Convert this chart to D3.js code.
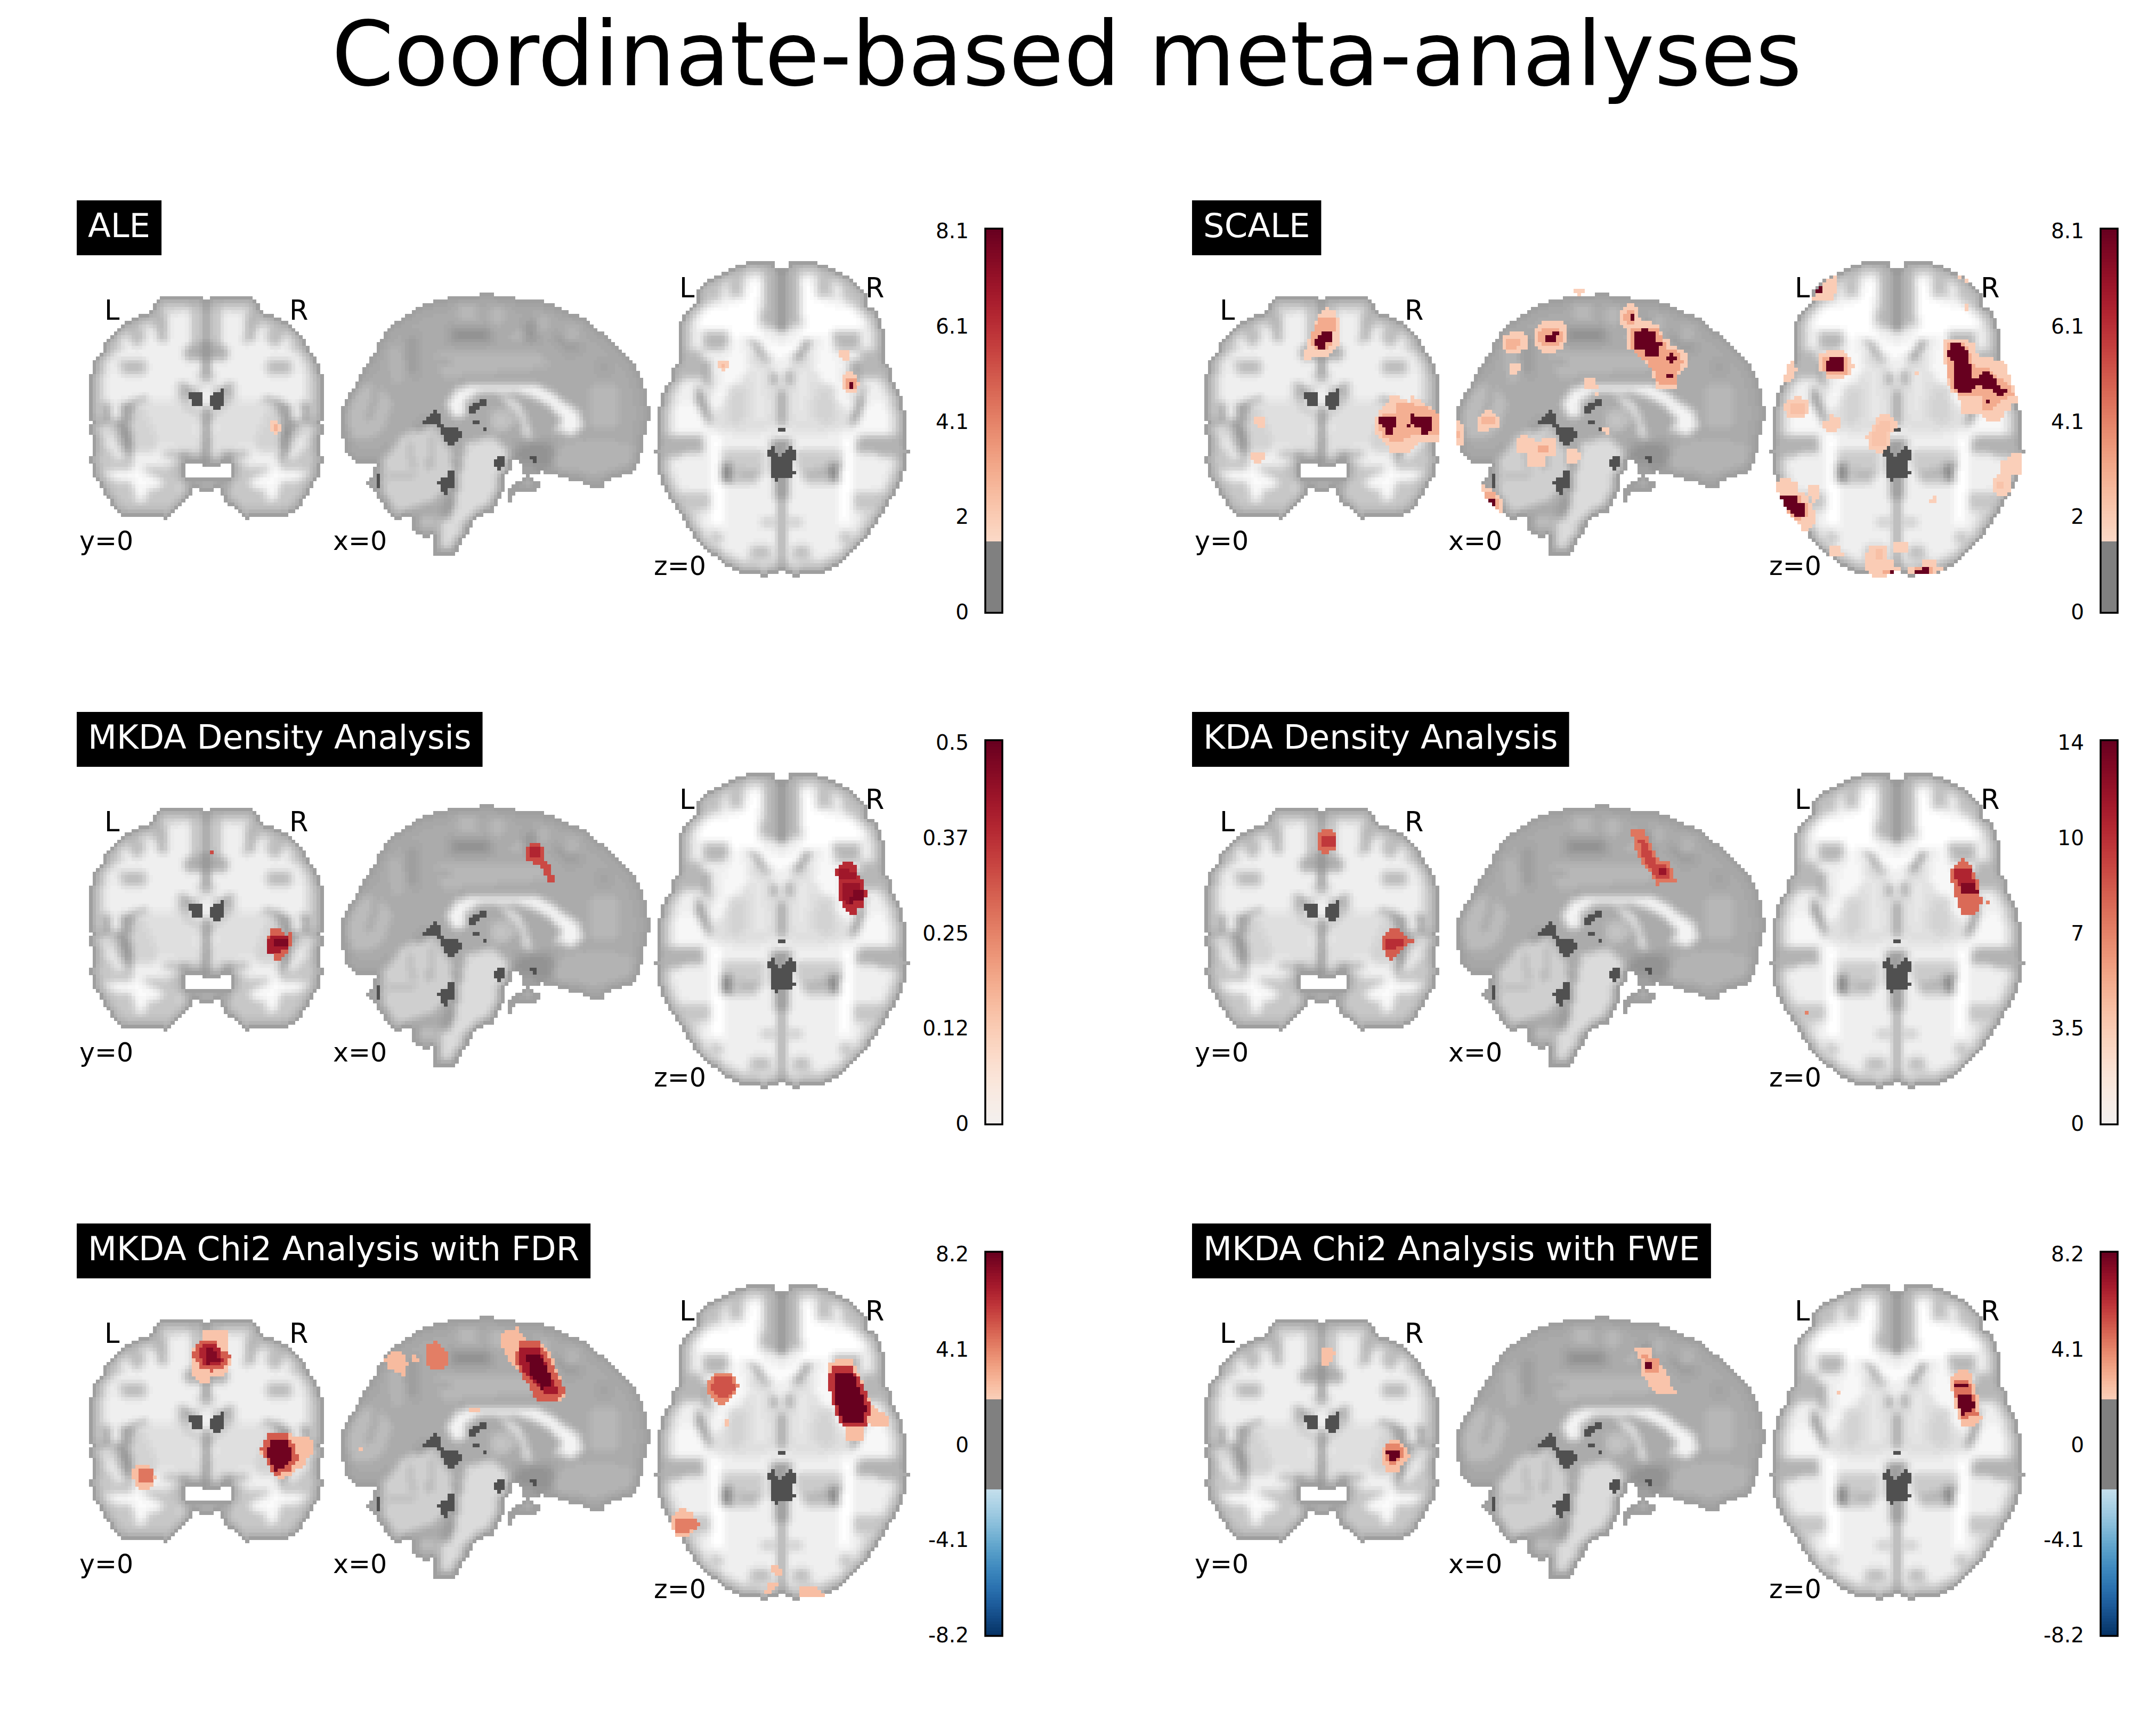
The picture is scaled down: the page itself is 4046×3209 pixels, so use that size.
<!DOCTYPE html>
<html><head><meta charset="utf-8">
<script src="https://cdn.jsdelivr.net/npm/d3@7"></script>
<style>html,body{margin:0;padding:0;background:#fff}svg{display:block}text{font-family:"DejaVu Sans",sans-serif}</style>
</head><body><svg id="fig" width="4046" height="3209"></svg>
<script>
// ---------- chart text ----------
const figureTitle = "Coordinate-based meta-analyses";
const panelNames = ["ALE","SCALE","MKDA Density Analysis","KDA Density Analysis","MKDA Chi2 Analysis with FDR","MKDA Chi2 Analysis with FWE"];
const vMin = [0,0,0,0,-8.2,-8.2];
const vMax = [8.1,8.1,0.5,14,8.2,8.2];
const thresholds = [1.55,1.55,0,0,1.9,1.9];
const tickLabels = [
  ["8.1","6.1","4.1","2","0"],["8.1","6.1","4.1","2","0"],
  ["0.5","0.37","0.25","0.12","0"],["14","10","7","3.5","0"],
  ["8.2","4.1","0","-4.1","-8.2"],["8.2","4.1","0","-4.1","-8.2"]];
const sliceKeys = ["cor","sag","ax"];
const sliceCaptions = ["y=0","x=0","z=0"];

// ---------- anatomy in crop coordinates: [grey level, x,y, x,y, ...] ----------
const corOutline = [680,100,660,100,660,80,440,80,400,100,380,120,380,160,300,180,280,200,240,220,200,240,180,260,160,280,140,300,120,320,100,380,80,400,60,420,40,480,20,560,20,755,40,790,20,800,20,855,40,860,40,980,20,980,20,1015,40,1020,40,1095,60,1100,80,1140,100,1180,120,1210,140,1240,160,1270,200,1300,220,1315,340,1320,460,1330,480,1300,520,1270,560,1240,600,1190,600,1150,640,1172,680,1172];
const corMirrored = [
 [0.72,395,130,450,170,470,330,420,340,385,240],
 [0.72,590,110,640,110,640,330,600,330],
 [0.84,470,110,520,110,520,170,470,170],
 [0.74,210,250,290,210,340,300,320,350,270,350],
 [0.78,100,340,190,310,220,380,120,400],
 [0.74,190,440,340,440,340,510,200,510],
 [0.84,70,450,110,450,110,700,70,700],
 [0.68,560,350,680,340,680,440,570,440],
 [0.76,610,515,680,515,680,540,630,540],
 [0.88,340,660,500,650,590,700,640,790,660,960,440,940,380,900,330,800],
 [0.83,240,700,330,700,400,860,400,950,270,950],
 [0.74,520,560,560,560,600,620,590,690,640,720,660,780,620,740,560,700,520,640],
 [0.56,545,575,600,600,660,610,660,625,580,625],
 [0.9,600,570,680,560,680,610,650,600],
 [0.62,210,680,340,640,350,670,280,690,250,800,260,960,215,960,200,810],
 [0.62,100,680,150,680,140,770,100,770],
 [0.6,40,770,220,770,210,810,40,800],
 [0.54,200,815,240,815,270,990,240,990],
 [0.78,50,820,190,820,240,1000,290,1030,440,1040,540,1000,540,1090,500,1290,220,1300,100,1170,50,1000],
 [0.98,100,1060,260,1060,290,1000,320,1060,440,1120,450,1140,350,1170,340,1230,290,1230,260,1120,110,1100],
 [0.92,70,830,150,850,220,990,180,1000,100,900],
 [0.58,440,955,580,955,580,1015,540,1015,540,985,440,985],
 [0.66,540,1000,590,1000,590,1100,540,1100]];
const corCentre = [
 [0.56,665,100,700,100,700,520,665,520],
 [0.66,670,520,695,520,695,560,670,560],
 [0.58,670,700,695,700,700,1020,670,1020],
 [0.66,560,1100,820,1100,820,1172,560,1172],
 [0.99,640,1120,735,1120,735,1150,640,1150]];
const corHoles = [[560,1015,660,1015,660,1035,760,1035,760,1015,820,1015,820,1100,560,1100]];
const corDark = [[0.31,580,620,660,620,660,695,600,695],[0.31,700,635,780,600,780,680,760,715,720,715,700,695]];

const sagOutline = [705,57,775,57,775,78,880,78,880,98,1000,98,1050,115,1087,135,1120,155,1170,175,1210,195,1260,235,1280,255,1300,275,1330,295,1365,330,1400,375,1420,395,1450,435,1470,470,1487,495,1505,555,1525,610,1525,685,1540,690,1540,765,1525,770,1525,845,1505,850,1505,945,1487,950,1487,1005,1470,1010,1470,1045,1453,1060,1400,1060,1400,1080,1345,1085,1345,1100,1315,1100,1315,1138,1245,1138,1245,1120,1210,1120,1210,1100,1140,1100,1140,1082,1090,1082,1087,1060,1035,1060,1000,1040,1000,1060,985,1060,950,1060,950,1085,1000,1105,1000,1135,985,1160,910,1160,878,1165,860,1190,860,1220,845,1220,845,1180,860,1120,895,1100,930,1080,915,1020,880,985,860,985,860,1040,840,1040,825,1140,805,1200,790,1220,775,1250,770,1280,690,1300,670,1320,665,1355,650,1395,635,1400,615,1455,585,1510,480,1515,480,1400,440,1415,390,1395,375,1355,375,1300,300,1315,270,1295,235,1240,215,1200,190,1165,165,1130,150,1100,180,1085,180,1045,200,1005,150,1000,95,1000,78,965,60,960,45,920,43,860,25,855,25,705,45,665,60,630,95,570,112,530,147,455,165,430,200,375,215,320,235,295,270,240,320,200,355,180,405,140,445,118,495,98,565,80,705,75];
const sagLayers = [
 [0.74,70,640,130,560,220,560,280,680,220,850,90,870,60,780],
 [0.62,200,560,225,560,170,760,150,760],
 [0.71,250,370,320,350,340,540,280,580],
 [0.6,360,300,400,300,400,520,360,520],
 [0.72,600,120,690,120,700,210,610,220],
 [0.72,760,140,820,140,820,230,760,230],
 [0.72,860,270,920,270,900,330,860,330],
 [0.72,990,200,1050,200,1040,270,990,270],
 [0.71,1130,240,1190,240,1190,330,1130,330],
 [0.58,560,250,760,250,760,340,560,340],
 [0.59,930,210,985,210,985,340,930,340],
 [0.59,1060,290,1100,290,1170,390,1150,400],
 [0.59,1290,460,1340,460,1340,500,1290,500],
 [0.59,1160,330,1200,330,1200,380,1160,380],
 [0.72,480,400,1000,390,1060,470,800,500,520,530],
 [0.6,500,435,560,435,560,455,500,455],
 [0.72,1240,560,1380,560,1380,800,1240,800],
 [0.71,1110,900,1300,870,1450,900,1470,1000,1300,1060,1050,1040],
 [0.58,880,900,1060,880,1080,1000,1000,1040,880,980],
 [0.56,230,960,440,770,460,790,250,980],
 [0.82,230,980,340,840,480,800,560,930,580,1050,500,1200,300,1280,230,1150],
 [0.68,350,880,370,880,390,1040,370,1040],
 [0.68,460,850,480,850,470,1040,450,1040],
 [0.68,260,1070,400,1070,400,1090,260,1090],
 [0.86,640,880,780,870,850,950,800,1220,760,1280,680,1290,620,1340,600,1490,490,1510,520,1330,580,1180,600,1100,620,1000],
 [0.58,595,1000,615,1000,600,1120,570,1300,530,1330,520,1320,560,1180],
 [0.74,400,1300,500,1300,500,1390,400,1390],
 [0.96,545,680,590,590,700,565,950,560,1040,600,1130,670,1200,730,1205,810,1160,845,1060,825,1110,780,1100,740,1000,650,900,610,700,615,640,660,640,740,570,750],
 [0.9,800,620,880,650,930,730,960,860,930,860,900,750,840,680],
 [0.76,750,710,860,710,880,780,840,830,760,820],
 [0.9,895,1100,1000,1105,985,1160,910,1160]];
const sagDark = [
 [0.31,650,690,710,650,740,650,740,680,690,710,690,725,665,725],
 [0.31,668,765,705,765,705,785,668,785],
 [0.31,722,805,740,805,740,825,722,825],
 [0.31,480,708,495,708,510,730,515,780,530,805,600,805,618,830,618,860,585,905,550,905,530,860,500,800,470,790,430,785,430,765,465,730],
 [0.31,565,1040,585,1040,585,1125,555,1150,545,1180,530,1175,510,1125,495,1105,540,1085],
 [0.31,775,985,800,965,825,965,825,1020,805,1040,775,1020],
 [0.31,950,965,985,965,985,1000,965,1000],
 [0.31,200,1060,215,1060,215,1140,200,1140]];

const axOutline = [737,55,695,55,695,25,540,25,540,40,500,40,460,55,420,75,360,95,320,125,275,160,255,190,255,230,200,260,180,295,160,345,160,510,120,530,120,595,100,600,80,630,60,680,40,750,40,915,20,915,20,935,40,935,40,1015,60,1060,80,1100,100,1140,120,1160,140,1190,160,1215,180,1240,200,1270,240,1320,260,1345,300,1375,340,1410,380,1440,420,1470,480,1495,520,1515,660,1520,715,1505,737,1490];
const axMirrored = [
 [0.76,460,70,535,60,525,200,440,200],
 [0.72,630,60,715,60,715,345,620,330,640,220],
 [0.76,320,130,400,120,400,210,290,230],
 [1.0,400,240,540,200,570,100,630,100,610,210,600,330,640,390,737,440,737,490,700,470,600,395,500,380,480,450,430,350,300,340,190,350,200,320,300,240],
 [0.72,300,370,450,370,430,440,300,440],
 [0.72,170,450,290,450,300,590,130,590],
 [0.66,300,500,345,500,345,620,300,620],
 [0.88,480,480,680,500,690,620,737,640,737,820,550,860,390,830,340,780,300,640],
 [0.82,560,400,600,395,680,490,680,530,600,500],
 [0.97,470,420,490,400,560,530,500,600,360,740,330,720],
 [0.93,590,530,620,530,640,760,610,760],
 [0.83,440,620,540,620,550,790,430,800],
 [0.64,680,540,715,560,715,620,680,610],
 [0.56,560,395,580,395,660,490,640,500],
 [0.54,260,620,280,620,350,800,330,810,270,700],
 [0.97,100,680,240,700,330,840,300,860,60,860,70,760],
 [0.7,60,860,300,860,310,930,60,960],
 [0.78,120,1120,350,1120,350,1210,180,1210],
 [0.86,180,1210,290,1210,290,1290,220,1290],
 [0.76,570,1380,680,1380,680,1440,570,1440],
 [0.76,350,1300,420,1330,400,1370,340,1340],
 [0.82,620,1240,700,1240,700,1290,620,1290],
 [1.0,330,850,400,850,420,1280,345,1280],
 [0.8,400,920,650,920,650,1000,600,1080,420,1090,400,1000],
 [0.7,500,1010,620,1020,620,1060,500,1060],
 [0.52,400,990,470,990,470,1060,410,1080],
 [0.62,680,870,737,870,737,1160,700,1160]];
const axCentre = [
 [0.56,718,55,757,55,757,360,718,360],
 [0.64,718,1160,757,1160,757,1490,718,1490],
 [0.62,718,640,757,640,757,800,718,800]];
const axDark = [
 [0.31,655,920,680,920,680,900,695,900,695,920,735,950,775,920,775,900,795,900,815,920,815,965,795,965,795,1015,815,1015,815,1035,795,1050,715,1050,715,1065,695,1065,695,1050,680,1050,680,965,655,950],
 [0.31,717,813,757,813,757,830,717,830]];

const aleCor = [[2.0,1037,778,1080,778,1080,798,1098,798,1098,838,1080,838,1080,858,1058,858,1058,838,1037,838],[2.8,1058,798,1080,798,1080,838,1058,838]];
const aleSag = [];
const aleAx = [[2.0,378,497,438,497,438,528,418,528,418,545,397,545,397,528,378,528],[2.6,398,510,418,510,418,528,398,528],
 [2.0,1056,447,1116,447,1116,495,1078,495,1078,478,1056,478],
 [2.0,1097,547,1137,547,1137,562,1157,562,1157,597,1176,597,1176,612,1157,612,1157,647,1097,647,1097,630,1078,630,1078,562,1097,562],
 [3.2,1097,580,1157,580,1157,630,1097,630],[8.1,1117,597,1137,597,1137,630,1117,630]];

const scaleCor = [
 [1.9,733,145,752,145,752,162,790,162,810,200,830,205,830,280,812,280,812,345,790,380,770,400,735,418,670,418,670,440,615,440,615,385,635,380,635,320,655,310,655,282,672,282,672,222,692,222,692,185,715,165],
 [3,692,200,790,200,810,225,810,275,790,280,790,340,770,360,750,380,690,380,672,360,655,320,672,270,690,240],
 [8.1,712,282,772,282,772,342,732,342,732,380,692,380,692,360,672,360,672,322,692,322,692,300,712,300],
 [2,1110,640,1170,640,1170,658,1210,658,1210,675,1228,675,1228,640,1248,640,1248,658,1288,658,1288,680,1308,680,1308,698,1348,698,1348,718,1385,738,1385,895,1268,895,1268,915,1228,935,1228,952,1110,952,1110,915,1090,915,1090,895,1070,895,1070,875,1050,875,1050,855,1030,855,1030,758,1050,758,1050,718,1070,718,1070,698,1090,698,1090,678,1110,678],
 [2.9,1150,680,1210,680,1300,700,1345,720,1385,740,1385,860,1250,860,1200,870,1170,900,1110,900,1070,870,1050,830,1050,760,1070,740,1150,735],
 [8.1,1050,758,1150,758,1150,795,1130,815,1130,838,1110,855,1090,855,1070,815,1070,795,1050,795],
 [8.1,1228,738,1248,738,1248,758,1348,758,1348,835,1325,835,1325,855,1288,855,1268,815,1248,815,1248,778,1228,795,1210,815,1210,798,1228,795],
 [2,335,755,395,755,395,815,355,815,355,798,335,798],
 [2,317,955,395,955,395,995,375,995,375,1013,335,1013,335,995,317,995]];
const scaleSag = [
 [1.9,578,28,612,28,612,62,597,62,597,82,578,82,578,62,562,62,562,45,578,45],
 [2,260,280,328,280,345,310,345,350,328,375,295,392,245,392,228,350,228,300],[2.8,245,310,310,310,325,335,300,365,250,365],
 [2,412,222,512,222,528,255,528,335,495,375,478,392,428,392,380,345,380,255,395,240],
 [3,412,258,495,258,512,280,512,320,480,355,430,355,395,320,395,275],
 [8.1,462,280,495,280,495,295,478,295,478,338,428,338,428,298,462,298],
 [1.9,260,455,312,455,312,492,295,492,295,512,262,512],
 [2,815,122,848,122,848,140,862,140,880,198,898,220,930,220,930,240,965,240,982,275,982,295,1015,320,1015,355,1048,355,1048,375,1080,378,1098,395,1098,472,1080,472,1080,495,1065,495,1048,570,1048,590,965,590,948,555,930,475,900,435,880,415,860,390,850,375,815,375,815,295,830,275,815,255,797,240,780,200,780,160,797,140,815,140],
 [3,815,160,850,160,862,240,830,240,800,200],
 [3.2,830,260,965,260,998,330,1000,375,1065,385,1080,440,1060,490,1050,565,965,565,950,500,910,440,850,380,830,340],
 [8.1,830,180,848,180,848,220,830,220],
 [8.1,880,258,915,258,915,278,948,278,965,338,982,338,982,355,965,355,965,415,915,415,898,378,862,375,848,350,848,298,862,278,880,278],
 [8.1,1015,392,1030,392,1030,412,1048,412,1048,435,1030,435,1030,452,1015,452,1015,435,996,435,996,412,1015,412],
 [8.1,996,512,1030,512,1030,535,996,535],
 [2,612,535,665,535,665,570,680,570,680,590,612,590,612,570],[1.9,663,610,680,610,680,630,663,630],[1.9,695,805,728,805,728,840,712,840,712,822,695,822],
 [2,128,725,145,725,145,708,178,708,178,725,212,745,212,785,195,805,160,805,160,825,112,825,112,745],[2.7,128,745,178,745,195,775,145,790,128,775],
 [2,10,768,28,768,28,785,44,790,44,900,10,900],[2.7,10,825,28,825,28,865,10,865],
 [2,312,842,345,842,345,862,380,862,380,885,412,885,412,862,462,862,478,880,478,960,428,960,428,1020,345,1020,345,960,330,940,295,940,295,880,312,862],
 [3,395,900,445,900,445,940,395,940],
 [1.9,528,925,580,925,597,960,597,980,580,1000,528,1000],
 [2,128,1118,145,1118,145,1135,178,1135,178,1155,195,1175,212,1195,228,1210,228,1275,212,1275,195,1255,178,1235,160,1215,145,1195,145,1155,128,1155],
 [3,145,1155,195,1155,212,1255,195,1255,145,1195],
 [8.1,162,1195,195,1195,195,1235,178,1235,178,1215,162,1215]];
const scaleAx = [
 [2,215,148,235,130,275,90,295,65,335,45,352,45,352,130,335,130,335,162,215,162],[8.1,255,95,275,95,275,112,255,130,235,130,235,112,255,112],
 [1.9,1030,45,1048,45,1048,62,1030,62],[1.9,1068,62,1085,62,1085,80,1068,80],[1.9,1068,180,1085,180,1085,215,1068,215],
 [2,295,397,395,397,395,415,430,430,430,465,452,465,452,480,430,480,430,515,395,515,395,530,295,530,295,515,275,497,255,497,255,415,295,415],
 [3,275,430,415,430,415,515,295,515,275,497],[8.1,315,430,395,430,395,497,295,497,295,448,315,448],
 [2,95,448,118,448,118,482,135,482,135,497,118,497,118,530,95,530,95,548,58,548,58,515,78,515,78,465,95,465],
 [2,118,615,155,615,155,630,195,630,195,698,155,715,78,715,78,680,58,680,58,648,78,648,78,630,118,630],[2.4,100,648,175,648,175,695,100,695],
 [2,315,698,335,698,335,715,375,715,375,765,335,780,295,780,275,765,275,730,315,730],
 [2,592,698,650,698,650,715,690,732,690,765,650,782,650,850,630,865,612,882,572,882,572,865,532,865,532,815,512,815,512,798,532,798,532,782,552,782,552,750,572,750,572,715,592,715],[2.3,590,730,650,730,650,765,620,850,550,850,550,800],
 [2,948,348,1085,348,1085,365,1128,365,1128,380,1145,430,1215,430,1245,448,1285,448,1285,465,1305,465,1305,515,1325,515,1325,565,1345,565,1345,615,1365,615,1365,648,1325,648,1325,680,1285,698,1285,715,1265,730,1185,730,1165,698,1048,698,1048,630,1028,630,1028,600,990,600,990,565,970,565,970,465,948,465,948,430],
 [3,968,365,1065,365,1105,415,1128,480,1205,480,1265,530,1325,565,1345,615,1285,630,1235,665,1165,680,1165,615,1030,615,990,580,970,465],
 [8.1,988,365,1048,365,1048,380,1085,395,1085,432,1108,482,1108,530,1145,530,1165,515,1185,497,1205,497,1205,515,1225,515,1245,530,1245,565,1265,565,1285,580,1305,580,1305,597,1285,597,1285,615,1245,615,1245,597,1225,580,1165,580,1165,565,1130,565,1130,580,1085,597,1030,597,1010,580,1010,448,988,430,970,430,970,397,988,385],
 [3,1165,648,1225,648,1225,682,1185,682],[8.1,1185,632,1205,632,1205,648,1185,648],
 [1.9,798,497,810,497,810,515,790,515],
 [1.9,1305,900,1385,885,1385,985,1325,985,1325,1065,1305,1082,1245,1082,1225,1065,1225,1015,1245,1000,1265,985,1265,935,1305,915],[2.3,1250,1020,1300,1020,1300,1060,1250,1060],
 [1.9,888,1082,908,1082,908,1115,870,1115,870,1100,888,1100],
 [2,38,1000,95,1000,95,1015,135,1035,135,1065,175,1080,195,1115,215,1150,232,1150,232,1230,195,1235,195,1265,155,1265,155,1235,135,1215,118,1215,118,1180,98,1180,78,1150,58,1130,38,1100,18,1065,18,1015],
 [3,40,1082,135,1082,155,1115,195,1120,195,1185,118,1205,80,1165],
 [8.1,38,1082,135,1082,135,1115,178,1115,178,1185,118,1185,95,1165,78,1150,58,1130,58,1100,38,1100],
 [1.9,215,1033,232,1033,255,1050,255,1098,232,1115,215,1115,195,1082,195,1050],
 [1.9,672,1300,730,1300,750,1315,750,1365,690,1365,672,1350],
 [1.9,315,1333,375,1333,375,1365,392,1365,392,1382,335,1382,315,1365],
 [2,552,1318,612,1318,630,1335,630,1400,672,1400,672,1418,710,1418,710,1450,630,1450,630,1484,552,1484,552,1465,515,1435,515,1365,532,1350,532,1335],
 [2.4,570,1350,612,1350,612,1385,570,1385],[3,610,1435,650,1435,650,1465,610,1465],[8.1,650,1450,672,1450,672,1466,650,1466],
 [2,830,1400,908,1400,908,1433,948,1433,948,1450,908,1450,908,1466,750,1466,750,1435,790,1418,830,1418],
 [3,790,1435,870,1418,908,1450,790,1466],[8.1,830,1433,870,1433,870,1466,790,1466,790,1450,830,1450]];

const mkdaCor = [[0.33,268,435,274,435,274,450,268,450],
 [0.3,385,815,398,815,410,850,417,840,417,890,410,930,405,950,398,970,385,970,385,938,372,938,372,870,378,840],
 [0.41,378,845,410,850,415,900,400,935,375,935,375,870],[0.47,385,870,410,870,410,900,388,905]];
const mkdaSag = [[0.33,862,400,868,400,880,418,880,470,890,485,895,540,900,570,900,590,893,590,885,555,880,520,868,500,850,485,850,415],
 [0.39,855,420,875,420,878,465,855,470]];
const mkdaAx = [[0.38,1437,487,1443,487,1455,505,1455,540,1468,575,1470,625,1475,630,1472,710,1455,725,1455,745,1443,745,1437,728,1432,695,1425,660,1422,600,1432,570,1425,550,1416,550,1416,540,1424,505],
 [0.42,1425,520,1455,540,1460,570,1425,570],[0.43,1430,590,1462,590,1470,670,1445,695,1430,670],[0.47,1452,630,1470,630,1470,680,1445,690]];

const kdaCor = [[8,268,125,290,127,300,145,295,160,275,172,263,160,262,140],[10,270,140,293,140,293,155,270,158],
 [8.5,400,310,420,312,430,325,445,333,430,345,415,360,405,370,395,360,385,345,388,325],[10.5,393,330,425,330,425,345,395,348]];
const kdaSag = [[7.5,868,128,890,126,905,150,918,180,942,185,955,222,922,225,915,238,910,210,888,190,875,160],
 [9.5,880,140,900,150,915,190,935,190,945,215,918,215,895,190],[12,922,198,938,198,938,212,925,212]];
const kdaAx = [[8,1510,180,1520,185,1540,225,1545,260,1535,282,1510,282,1498,260,1490,225,1482,210,1495,192],
 [11,1490,200,1525,195,1535,240,1505,240],[13,1505,225,1535,225,1538,245,1510,245],[7,1552,258,1558,258,1558,265,1552,265],[7,1203,462,1208,462,1208,468,1203,468]];

const fdrCor = [[2.3,228,360,268,360,268,440,272,480,262,515,240,520,235,550,222,550,210,510,210,430,228,400],
 [5,220,398,245,398,258,430,272,450,268,485,240,505,222,490,210,445],[6.5,228,410,250,415,262,470,250,490,230,490,218,440],[7.6,232,425,250,430,255,470,235,480],
 [2.5,380,730,400,730,410,770,400,800,395,825,370,860,355,885,345,860,335,830,320,780,335,720,360,715],
 [5,335,715,360,715,378,760,382,810,370,850,345,865,335,830,320,775],[8,340,740,365,745,375,790,362,840,345,850,330,780],
 [2.5,115,825,140,825,150,870,140,912,122,912,112,870],[4.4,120,845,145,845,148,885,125,888]];
const fdrSag = [[2.6,740,350,755,400,790,420,820,575,810,610,775,610,765,570,745,510,730,470,715,420,715,375],
 [5,745,395,775,395,795,470,820,575,800,610,775,610,755,540,735,470],[6.8,745,420,775,420,800,540,810,580,785,580,760,530,745,480],[8.2,755,450,780,450,800,550,780,565,762,510],
 [4.2,590,420,610,400,620,420,630,460,620,495,600,495,590,470],
 [2.6,535,435,550,440,565,480,555,500,555,528,545,505,530,490,525,465],[2.6,570,450,580,465,570,470],
 [2.3,662,630,680,630,680,642,662,642],[2.3,483,768,490,768,490,778,483,778]];
const fdrAx = [[4,1062,510,1090,510,1103,555,1090,600,1080,618,1068,618,1055,590,1052,550],[5.2,1065,520,1088,520,1098,560,1085,600,1070,600,1058,560],
 [2.3,1083,665,1090,665,1086,700,1080,700],
 [2.5,1265,458,1285,458,1300,520,1320,620,1345,660,1350,700,1320,700,1310,660,1305,740,1280,740,1275,690,1255,610,1248,520,1250,480],
 [6,1260,480,1285,480,1300,530,1320,625,1310,690,1270,690,1255,610,1248,530],[8.2,1262,515,1290,515,1312,630,1305,680,1272,680,1258,590],
 [2.5,1010,975,1025,995,1042,1035,1020,1070,1010,1085,998,1070,992,1030,998,995],[4.2,1000,1010,1025,1010,1040,1038,1020,1065,1002,1065],
 [2.4,1155,1170,1168,1170,1172,1208,1160,1208],[2.4,1155,1232,1170,1240,1155,1268,1143,1268],[2.5,1200,1245,1228,1248,1243,1280,1220,1292,1200,1292]];

const fweCor = [[2.4,268,1090,285,1090,295,1100,285,1120,268,1122],
 [2.5,398,1262,420,1262,430,1278,440,1295,425,1310,410,1325,395,1322,388,1305,385,1285],[4,395,1272,422,1272,428,1295,405,1312,392,1300],[8.2,395,1285,420,1278,422,1298,400,1300]];
const fweSag = [[2.3,873,1090,905,1090,910,1108,935,1130,942,1155,955,1175,915,1175,890,1140,885,1115],[3.5,890,1105,920,1110,920,1135,895,1140],[8.2,893,1118,906,1118,906,1130,893,1130]];
const fweAx = [[2.5,1510,1130,1522,1132,1530,1155,1540,1185,1545,1220,1530,1235,1510,1235,1497,1210,1492,1175,1482,1155,1492,1138],
 [4.5,1490,1150,1520,1150,1530,1175,1538,1215,1510,1225,1497,1190],[8.2,1490,1155,1518,1155,1518,1165,1490,1165],[8.2,1498,1178,1525,1175,1535,1205,1510,1215,1500,1200],[2.2,1264,1170,1270,1170,1270,1175,1264,1175]];

// ---------- where each array was read from (crop origin and magnification) ----------
const crop = (ox,oy,sx,sy)=>({x:d3.scaleLinear([0,sx],[ox,ox+1]),y:d3.scaleLinear([0,sy],[oy,oy+1])});
const cropsCor=crop(160,530,3,3), cropSag=crop(630,530,2.613,2.96), cropAx=crop(1220,480,3,2.53);
const overlays = [
 {cor:[aleCor,cropsCor],sag:[aleSag,cropSag],ax:[aleAx,cropAx]},
 {cor:[scaleCor,crop(2240,530,3,3)],sag:[scaleSag,crop(2730,530,2.53,2.96)],ax:[scaleAx,crop(3330,500,3,2.53)]},
 {cor:[mkdaCor,crop(120,1430,0.98,2.613)],sag:[mkdaSag,crop(120,1430,0.98,2.613)],ax:[mkdaAx,crop(120,1430,0.98,2.613)]},
 {cor:[kdaCor,crop(2220,1430,1.0316,0.992)],sag:[kdaSag,crop(2220,1430,1.0316,0.992)],ax:[kdaAx,crop(2220,1430,1.0316,0.992)]},
 {cor:[fdrCor,crop(120,2300,0.871,1.845)],sag:[fdrSag,crop(120,2300,0.871,1.845)],ax:[fdrAx,crop(120,2300,0.871,1.845)]},
 {cor:[fweCor,crop(2220,1430,1.0316,0.992)],sag:[fweSag,crop(2220,1430,1.0316,0.992)],ax:[fweAx,crop(2220,1430,1.0316,0.992)]}];

// ---------- layout ----------
const VOX=6.67, colStep=2093, rowStep=960;
const sliceGeom = {
 cor:{w:66,h:64,x0:167,y0:549,crop:cropsCor,mirror:680,outline:corOutline,layers:corMirrored,centre:corCentre,holes:corHoles,dark:corDark,base:0.94,depth:[0.62,0.7,0.76,0.84,0.9],ring:0.62,cap:[149,1032],lab:[[196,600],[543,600]]},
 sag:{w:87,h:74,x0:640,y0:549,crop:cropSag,mirror:null,outline:sagOutline,layers:sagLayers,centre:[],holes:[],dark:sagDark,base:0.665,depth:[0.62,0.64],ring:0.62,cap:[625,1032],lab:null},
 ax:{w:72,h:90,x0:1227,y0:490,crop:cropAx,mirror:737,outline:axOutline,layers:axMirrored,centre:axCentre,holes:[],dark:axDark,base:0.94,depth:[0.62,0.72,0.78,0.86,0.92],ring:0.63,cap:[1227,1079],lab:[[1275,558],[1624,558]]}};

const svg = d3.select("#fig");
const defs = svg.append("defs");
const pairs = a=>d3.range(0,a.length,2).map(i=>[a[i],a[i+1]]);
const rgbGrey = l=>{const g=Math.round(l*255);return `rgb(${g},${g},${g})`;};

function buildAnatomy(key){
  const s=sliceGeom[key];
  const pos=(pt)=>[(s.crop.x(pt[0])-s.x0)/VOX,(s.crop.y(pt[1])-s.y0)/VOX];
  const mir=(pt)=>[2*s.mirror-pt[0],pt[1]];
  let outline=pairs(s.outline);
  if(s.mirror!==null) outline=outline.concat(outline.slice().reverse().map(mir));
  outline=outline.map(pos);
  const holes=s.holes.map(h=>pairs(h).map(pos));
  const polyList=[];
  s.layers.forEach(l=>{const p=pairs(l.slice(1));polyList.push([l[0],p.map(pos)]);if(s.mirror!==null)polyList.push([l[0],p.map(mir).map(pos)]);});
  s.centre.forEach(l=>polyList.push([l[0],pairs(l.slice(1)).map(pos)]));
  const darkList=s.dark.map(l=>[l[0],pairs(l.slice(1)).map(pos)]);
  const idx=(i,j)=>j*s.w+i;
  const mask=new Uint8Array(s.w*s.h);
  let f=new Float64Array(s.w*s.h).fill(s.base);
  for(let j=0;j<s.h;j++)for(let i=0;i<s.w;i++){
    const c=[i+.5,j+.5];
    if(d3.polygonContains(outline,c)&&!holes.some(h=>d3.polygonContains(h,c))) mask[idx(i,j)]=1;
    else continue;
    polyList.forEach(([lv,p])=>{if(d3.polygonContains(p,c))f[idx(i,j)]=lv;});
  }
  const at=(i,j)=>i>=0&&j>=0&&i<s.w&&j<s.h&&mask[idx(i,j)];
  // cortical ribbon: tissue close to the brain edge is darker
  const depth=new Int16Array(s.w*s.h).fill(99);
  for(let d=0;d<s.depth.length;d++){
    for(let j=0;j<s.h;j++)for(let i=0;i<s.w;i++){
      if(!mask[idx(i,j)]||depth[idx(i,j)]<99)continue;
      let near=false;
      for(const [a,b] of [[-1,0],[1,0],[0,-1],[0,1]]){
        const ii=i+a,jj=j+b;
        if(!at(ii,jj)||depth[idx(ii,jj)]<d) near=true;
      }
      if(near)depth[idx(i,j)]=d;
    }
    for(let q=0;q<depth.length;q++) if(depth[q]===d) f[q]=Math.min(f[q],s.depth[d]);
  }
  // soften the painted tissue the way a resampled template looks
  for(let pass=0;pass<2;pass++){
    const g=new Float64Array(f);
    for(let j=0;j<s.h;j++)for(let i=0;i<s.w;i++){
      if(!mask[idx(i,j)])continue;
      let t=0,n=0;
      for(let dj=-1;dj<=1;dj++)for(let di=-1;di<=1;di++){
        if(!at(i+di,j+dj))continue;
        const k=(2-Math.abs(di))*(2-Math.abs(dj));t+=f[idx(i+di,j+dj)]*k;n+=k;
      }
      g[idx(i,j)]=t/n;
    }
    f=g;
  }
  const g=f;
  for(let j=0;j<s.h;j++)for(let i=0;i<s.w;i++){
    if(!mask[idx(i,j)])continue;
    if(!(at(i-1,j)&&at(i+1,j)&&at(i,j-1)&&at(i,j+1))) g[idx(i,j)]=Math.min(g[idx(i,j)],s.ring);
    const c=[i+.5,j+.5];
    darkList.forEach(([lv,p])=>{if(d3.polygonContains(p,c))g[idx(i,j)]=lv;});
  }
  const runs=[];
  for(let j=0;j<s.h;j++){
    let i=0;
    while(i<s.w){
      if(!mask[idx(i,j)]){i++;continue;}
      const q=Math.round(g[idx(i,j)]*64);let e=i+1;
      while(e<s.w&&mask[idx(e,j)]&&Math.round(g[idx(e,j)]*64)===q)e++;
      runs.push({i,j,n:e-i,l:q/64});i=e;
    }
  }
  const xs=d3.scaleLinear([0,s.w],[s.x0,s.x0+s.w*VOX]), ys=d3.scaleLinear([0,s.h],[s.y0,s.y0+s.h*VOX]);
  defs.append("g").attr("id","anat-"+key).attr("shape-rendering","crispEdges")
    .selectAll("rect").data(runs).join("rect")
    .attr("x",d=>xs(d.i)).attr("y",d=>ys(d.j)).attr("width",d=>xs(d.i+d.n)-xs(d.i)+.5).attr("height",VOX+.5)
    .attr("fill",d=>rgbGrey(d.l));
}
sliceKeys.forEach(buildAnatomy);

function drawOverlay(g,key,blobs,cr,dx,dy,vmax){
  const s=sliceGeom[key];
  if(!blobs.length)return;
  const pos=(pt)=>[(cr.x(pt[0])-dx-s.x0)/VOX,(cr.y(pt[1])-dy-s.y0)/VOX];
  const polys=blobs.map(b=>[b[0],pairs(b.slice(1)).map(pos)]);
  const cells=[];
  for(let j=-6;j<s.h+6;j++)for(let i=-6;i<s.w+6;i++){
    let v=0;const c=[i+.5,j+.5];
    polys.forEach(([val,p])=>{if(val>v&&d3.polygonContains(p,c))v=val;});
    if(v>0)cells.push({i,j,v});
  }
  const xs=d3.scaleLinear([0,s.w],[s.x0+dx,s.x0+dx+s.w*VOX]), ys=d3.scaleLinear([0,s.h],[s.y0+dy,s.y0+dy+s.h*VOX]);
  const col=v=>d3.interpolateRdBu(0.5-v/(2*vmax));
  g.append("g").attr("shape-rendering","crispEdges").selectAll("rect").data(cells).join("rect")
    .attr("x",d=>xs(d.i)).attr("y",d=>ys(d.j)).attr("width",VOX+.5).attr("height",VOX+.5)
    .attr("fill",d=>col(d.v));
}

// ---------- figure ----------
svg.append("text").attr("x",2002).attr("y",160).attr("text-anchor","middle").attr("font-size",167).attr("fill","#000").text(figureTitle);

panelNames.forEach((name,p)=>{
  const col=p%2,row=Math.floor(p/2),dx=col*colStep,dy=row*rowStep;
  const g=svg.append("g");
  const box=g.append("rect").attr("x",144+dx).attr("y",376+dy).attr("height",103).attr("fill","#000");
  const tt=g.append("text").attr("x",165+dx).attr("y",445+dy).attr("font-size",62.5).attr("fill","#fff").text(name);
  box.attr("width",tt.node().getComputedTextLength()+42);
  sliceKeys.forEach((key,k)=>{
    const s=sliceGeom[key], sg=g.append("g");
    sg.append("use").attr("href","#anat-"+key).attr("x",dx).attr("y",dy);
    drawOverlay(sg,key,overlays[p][key][0],overlays[p][key][1],dx,dy,vMax[p]);
    sg.append("text").attr("x",s.cap[0]+dx).attr("y",s.cap[1]+dy).attr("font-size",49).text(sliceCaptions[k]);
    if(s.lab){
      sg.append("text").attr("x",s.lab[0][0]+dx).attr("y",s.lab[0][1]+dy).attr("font-size",51).text("L");
      sg.append("text").attr("x",s.lab[1][0]+dx).attr("y",s.lab[1][1]+dy).attr("font-size",51).text("R");
    }
  });
  const yTop=429+dy,yBot=1150+dy,xL=1849+dx,xR=1881+dx;
  const y=d3.scaleLinear([vMin[p],vMax[p]],[yBot,yTop]);
  const n=128, step=(vMax[p]-vMin[p])/n;
  const segs=d3.range(n).map(i=>vMin[p]+i*step);
  g.append("g").attr("shape-rendering","crispEdges").selectAll("rect").data(segs).join("rect")
    .attr("x",xL).attr("width",xR-xL).attr("y",v=>y(v+step)).attr("height",v=>y(v)-y(v+step)+1)
    .attr("fill",v=>{const m=v+step/2;return Math.abs(m)<thresholds[p]?"#808080":d3.interpolateRdBu(0.5-m/(2*vMax[p]));});
  g.append("rect").attr("x",xL).attr("y",yTop).attr("width",xR-xL).attr("height",yBot-yTop).attr("fill","none").attr("stroke","#000").attr("stroke-width",3.5);
  const ty=d3.scalePoint(tickLabels[p],[yTop+4,yBot-2]);
  g.append("g").selectAll("text").data(tickLabels[p]).join("text")
    .attr("x",1818+dx).attr("y",d=>ty(d)).attr("dy","0.365em").attr("text-anchor","end").attr("font-size",39).text(d=>d);
});
</script></body></html>
